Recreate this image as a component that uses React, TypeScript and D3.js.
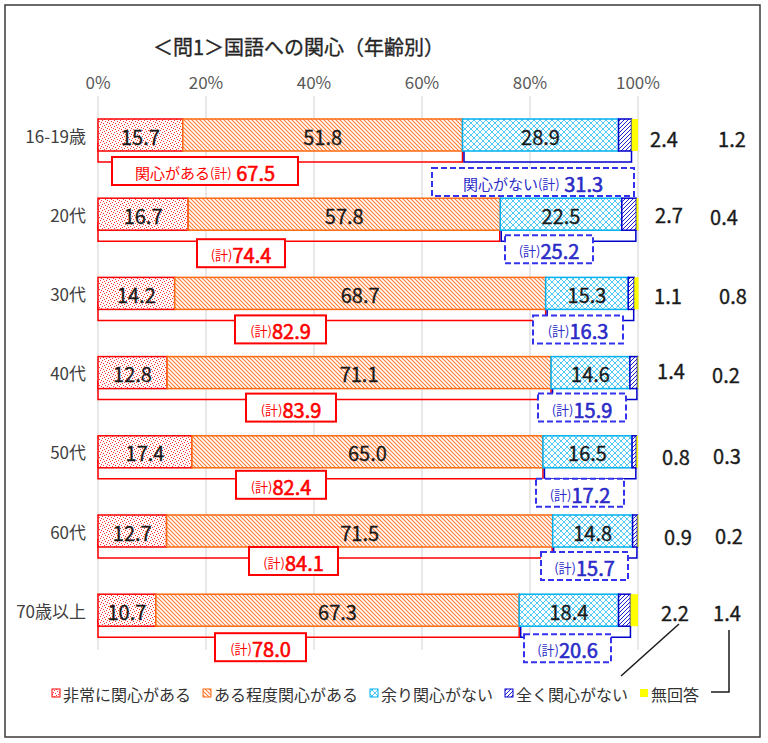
import React from 'react';
import * as d3 from 'd3';

// ---- data ----
const categories = ['16-19歳', '20代', '30代', '40代', '50代', '60代', '70歳以上'];
const veryInterested = [15.7, 16.7, 14.2, 12.8, 17.4, 12.7, 10.7];
const someInterested = [51.8, 57.8, 68.7, 71.1, 65.0, 71.5, 67.3];
const notMuch = [28.9, 22.5, 15.3, 14.6, 16.5, 14.8, 18.4];
const notAtAll = [2.4, 2.7, 1.1, 1.4, 0.8, 0.9, 2.2];
const noAnswer = [1.2, 0.4, 0.8, 0.2, 0.3, 0.2, 1.4];
const interestedTotal = [67.5, 74.4, 82.9, 83.9, 82.4, 84.1, 78.0];
const notInterestedTotal = [31.3, 25.2, 16.3, 15.9, 17.2, 15.7, 20.6];
const xTicks = [0, 20, 40, 60, 80, 100];
const seriesKeys = ['very', 'some', 'notMuch', 'notAtAll', 'noAnswer'];
const seriesNames = ['非常に関心がある', 'ある程度関心がある', '余り関心がない', '全く関心がない', '無回答'];
const title = '＜問1＞国語への関心（年齢別）';

// ---- layout (annotation placement) ----
const redBoxX = [112, 197, 235, 246, 236, 249, 215];
const redBoxW = [186, 88, 91, 90, 90, 89, 91];
const redBoxDy = [22, 25, 22, 21, 19, 16, 23];
const blueBoxX = [432, 505, 533, 538, 536, 541, 524];
const blueBoxW = [202, 88, 90, 88, 88, 87, 87];
const blueBoxDy = [33, 21, 22, 21, 27, 21, 24];
const notAtAllLabelX = [664, 669, 668, 671, 676, 678, 675];
const notAtAllLabelDy = [3, 0, 2, -2, 5, 5, 2];
const noAnswerLabelX = [732, 724, 733, 726, 727, 729, 727];
const noAnswerLabelDy = [3, 2, 2, 2, 4, 4, 2];

const FONT = '"Noto Sans CJK JP", "Noto Sans", sans-serif';
const fills = ['url(#pDots)', 'url(#pOrange)', 'url(#pLattice)', 'url(#pBlue)', '#ffff00'];
const strokes = ['#ff0000', '#ff6a13', '#00b0f0', '#0000cc', 'none'];

export default function App() {
  const W = 768, H = 743;
  const x = d3.scaleLinear().domain([0, 100]).range([98, 638]);
  const yc = d3.scalePoint<string>().domain(categories).range([135, 610.2]);
  const barH = 32;

  const table = categories.map((c, i) => ({
    cat: c,
    very: veryInterested[i],
    some: someInterested[i],
    notMuch: notMuch[i],
    notAtAll: notAtAll[i],
    noAnswer: noAnswer[i],
  }));
  const stacked = d3.stack<any>().keys(seriesKeys)(table);

  const legendWidths = seriesNames.map((n) => n.length * 16);
  let lx = 52;
  const legendPos = legendWidths.map((w) => {
    const p = lx;
    lx += 8 + 3 + w + 12;
    return p;
  });

  return (
    <svg width={W} height={H} style={{ position: 'absolute', left: 0, top: 0, background: '#fff' }} fontFamily={FONT}>
      <defs>
        <pattern id="pDots" width="6" height="6" patternUnits="userSpaceOnUse">
          <rect width="6" height="6" fill="#fff" />
          {[[0, 0], [3, 1], [1, 3], [4, 4], [5, 2], [2, 5]].map(([a, b], k) => (
            <rect key={k} x={a} y={b} width="1" height="1" fill="#ff3030" />
          ))}
        </pattern>
        <pattern id="pOrange" width="4" height="4" patternUnits="userSpaceOnUse">
          <rect width="4" height="4" fill="#fff" />
          <path d="M-1,-1 L5,5 M3,-1 L5,1 M-1,3 L1,5" stroke="#ff7a30" strokeWidth="1.1" />
        </pattern>
        <pattern id="pLattice" width="6" height="6" patternUnits="userSpaceOnUse">
          <rect width="6" height="6" fill="#fff" />
          <path d="M0,0 L6,6 M6,0 L0,6" stroke="#3cc4f4" strokeWidth="0.9" />
        </pattern>
        <pattern id="pBlue" width="4" height="4" patternUnits="userSpaceOnUse">
          <rect width="4" height="4" fill="#fff" />
          <path d="M-1,5 L5,-1 M-1,1 L1,-1 M3,5 L5,3" stroke="#2020d0" strokeWidth="1" />
        </pattern>
      </defs>

      <rect x={5} y={5} width={755} height={732} fill="#fff" stroke="#3a3a3a" strokeWidth={1.5} />

      <text x={153} y={46} fontSize={20} fill="#262626" stroke="#262626" strokeWidth={0.35} dominantBaseline="central">{title}</text>

      {/* grid + ticks */}
      {xTicks.map((t) => (
        <g key={t}>
          <line x1={x(t)} x2={x(t)} y1={96} y2={650} stroke="#d9d9d9" strokeWidth={1.2} />
          <text x={x(t)} y={81} fontSize={17} fill="#595959" textAnchor="middle" dominantBaseline="central">{t}%</text>
        </g>
      ))}

      {/* category labels */}
      {categories.map((c) => (
        <text key={c} x={86} y={yc(c)!} fontSize={17} fill="#404040" textAnchor="end" dominantBaseline="central">{c}</text>
      ))}

      {/* brackets */}
      {categories.map((c, i) => {
        const bBottom = yc(c)! + barH / 2;
        const by = bBottom + 11;
        const x0 = x(0), x1 = x(interestedTotal[i]), x2 = x(interestedTotal[i] + notInterestedTotal[i]);
        return (
          <g key={'br' + c} fill="none" strokeWidth={1.5}>
            <path d={`M${x0},${bBottom - 8} V${by} H${x1} V${bBottom - 8}`} stroke="#ff0000" />
            <path d={`M${x1 + 1.5},${bBottom - 2} V${by} H${x2} V${bBottom - 2}`} stroke="#0000cc" />
          </g>
        );
      })}

      {/* bars */}
      {stacked.map((s, si) => (
        <g key={s.key}>
          {s.map((d, i) => {
            const c = categories[i];
            const x0 = x(d[0]), x1 = x(d[1]);
            return (
              <rect key={c} x={x0} y={yc(c)! - barH / 2} width={x1 - x0} height={barH}
                fill={fills[si]} stroke={strokes[si]} strokeWidth={si === 4 ? 0 : 1.5} />
            );
          })}
        </g>
      ))}

      {/* value labels in bars */}
      {stacked.slice(0, 3).map((s) => (
        <g key={'lab' + s.key}>
          {s.map((d, i) => (
            <text key={i} x={(x(d[0]) + x(d[1])) / 2} y={yc(categories[i])! + 1} fontSize={20} fill="#1a1a1a"
              stroke="#1a1a1a" strokeWidth={0.3}
              textAnchor="middle" dominantBaseline="central">{(d[1] - d[0]).toFixed(1)}</text>
          ))}
        </g>
      ))}

      {/* right side labels */}
      {categories.map((c, i) => (
        <g key={'rl' + c} stroke="#1a1a1a" strokeWidth={0.35}>
          <text x={notAtAllLabelX[i]} y={yc(c)! + notAtAllLabelDy[i]} fontSize={20} fill="#1a1a1a" textAnchor="middle" dominantBaseline="central">{notAtAll[i].toFixed(1)}</text>
          <text x={noAnswerLabelX[i]} y={yc(c)! + noAnswerLabelDy[i]} fontSize={20} fill="#1a1a1a" textAnchor="middle" dominantBaseline="central">{noAnswer[i].toFixed(1)}</text>
        </g>
      ))}

      {/* leader lines for last row */}
      <line x1={679} y1={624} x2={621} y2={676} stroke="#1a1a1a" strokeWidth={1.5} />
      <path d="M729,630 V692 H711" fill="none" stroke="#1a1a1a" strokeWidth={1.5} />

      {/* total boxes */}
      {categories.map((c, i) => {
        const ry = yc(c)! + redBoxDy[i];
        const by = yc(c)! + blueBoxDy[i];
        const first = i === 0;
        return (
          <g key={'box' + c}>
            <rect x={redBoxX[i]} y={ry} width={redBoxW[i]} height={28} fill="#fff" stroke="#ff0000" strokeWidth={2} />
            <text x={redBoxX[i] + redBoxW[i] / 2} y={ry + 15} textAnchor="middle" dominantBaseline="central" fill="#ff0000">
              {first && <tspan fontSize={15}>関心がある</tspan>}
              <tspan fontSize={13}>(計)</tspan>
              <tspan fontSize={20} stroke="#ff0000" strokeWidth={0.6}>{(first ? ' ' : '') + interestedTotal[i].toFixed(1)}</tspan>
            </text>
            <rect x={blueBoxX[i]} y={by} width={blueBoxW[i]} height={28} fill="#fff" stroke="#3333ee" strokeWidth={2} strokeDasharray="6,3" />
            <text x={blueBoxX[i] + blueBoxW[i] / 2} y={by + 15} textAnchor="middle" dominantBaseline="central" fill="#2b2bc8">
              {first && <tspan fontSize={15}>関心がない</tspan>}
              <tspan fontSize={13}>(計)</tspan>
              <tspan fontSize={20} stroke="#2b2bc8" strokeWidth={0.6}>{(first ? ' ' : '') + notInterestedTotal[i].toFixed(1)}</tspan>
            </text>
          </g>
        );
      })}

      {/* legend */}
      {seriesNames.map((n, i) => (
        <g key={n}>
          <rect x={legendPos[i]} y={689} width={8} height={8} fill={fills[i]} stroke={strokes[i]} strokeWidth={i === 4 ? 0 : 1} />
          <text x={legendPos[i] + 11} y={694} fontSize={16} fill="#333" dominantBaseline="central">{n}</text>
        </g>
      ))}
    </svg>
  );
}
